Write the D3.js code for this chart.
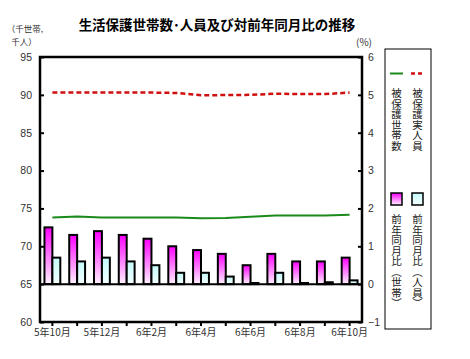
<!DOCTYPE html>
<html>
<head>
<meta charset="utf-8">
<script src="https://cdn.jsdelivr.net/npm/d3@7"></script>
<style>
  body { margin: 0; background: #fff; }
  svg { display: block; }
  text { font-family: "Liberation Sans", Arial, "Noto Sans CJK JP", sans-serif; }
  .jp { font-family: "Noto Sans CJK JP", sans-serif; }
</style>
</head>
<body>
<div class="chart"></div>
<script>
// months shown on the x axis
var months = ["5年10月", "5年11月", "5年12月", "6年1月", "6年2月", "6年3月", "6年4月",
              "6年5月", "6年6月", "6年7月", "6年8月", "6年9月", "6年10月"];
// 被保護世帯数 (千世帯) / 被保護実人員 (千人)
var households = [73.8, 73.95, 73.8, 73.8, 73.8, 73.8, 73.7, 73.75, 73.9, 74.05, 74.07, 74.07, 74.17];
var persons = [90.3, 90.3, 90.3, 90.3, 90.3, 90.25, 89.95, 89.97, 90.0, 90.15, 90.1, 90.1, 90.3];
// 前年同月比 (%)
var yoyHouseholds = [1.5, 1.3, 1.4, 1.3, 1.2, 1.0, 0.9, 0.8, 0.5, 0.8, 0.6, 0.6, 0.7];
var yoyPersons = [0.7, 0.6, 0.7, 0.6, 0.5, 0.3, 0.3, 0.2, 0.03, 0.3, 0.03, 0.05, 0.1];
var leftTicks = [60, 65, 70, 75, 80, 85, 90, 95];
var rightTicks = [-1, 0, 1, 2, 3, 4, 5, 6];

var W = 470, H = 359;
var plot = {left: 40, right: 362, top: 57, bottom: 322};

var svg = d3.select(".chart").append("svg")
  .attr("width", W).attr("height", H);

var defs = svg.append("defs");
var g1 = defs.append("linearGradient").attr("id", "gradM")
  .attr("x1", 0).attr("y1", 0).attr("x2", 0).attr("y2", 1);
g1.append("stop").attr("offset", "0%").attr("stop-color", "#ff00ff");
g1.append("stop").attr("offset", "100%").attr("stop-color", "#fff4ff");
var g2 = defs.append("linearGradient").attr("id", "gradC")
  .attr("x1", 0).attr("y1", 0).attr("x2", 0).attr("y2", 1);
g2.append("stop").attr("offset", "0%").attr("stop-color", "#c4fafa");
g2.append("stop").attr("offset", "100%").attr("stop-color", "#f4ffff");

var x = d3.scaleBand().domain(months).range([plot.left, plot.right]);
var yL = d3.scaleLinear().domain([60, 95]).range([plot.bottom, plot.top]);
var yR = d3.scaleLinear().domain([-1, 6]).range([plot.bottom, plot.top]);

var cx = function(d, i) { return x(months[i]) + x.bandwidth() / 2; };
var bw = x.bandwidth() * 0.32;

// bars
var bars = svg.append("g");
bars.selectAll("rect.m").data(yoyHouseholds).enter().append("rect")
  .attr("class", "m")
  .attr("x", function(d, i) { return cx(d, i) - bw; })
  .attr("y", function(d) { return yR(Math.max(d, 0)); })
  .attr("width", bw)
  .attr("height", function(d) { return Math.abs(yR(d) - yR(0)); })
  .attr("fill", "url(#gradM)").attr("stroke", "#000").attr("stroke-width", 2);
bars.selectAll("rect.c").data(yoyPersons).enter().append("rect")
  .attr("class", "c")
  .attr("x", function(d, i) { return cx(d, i); })
  .attr("y", function(d) { return yR(Math.max(d, 0)); })
  .attr("width", bw)
  .attr("height", function(d) { return Math.abs(yR(d) - yR(0)); })
  .attr("fill", "url(#gradC)").attr("stroke", "#000").attr("stroke-width", 2);

// zero line
svg.append("line")
  .attr("x1", plot.left).attr("x2", plot.right)
  .attr("y1", yR(0)).attr("y2", yR(0))
  .attr("stroke", "#000").attr("stroke-width", 2);

// lines
var line = d3.line().x(function(d, i) { return cx(d, i); }).y(function(d) { return yL(d); });
svg.append("path").datum(households)
  .attr("d", line).attr("fill", "none")
  .attr("stroke", "#1a8a1a").attr("stroke-width", 2);
svg.append("path").datum(persons)
  .attr("d", line).attr("fill", "none")
  .attr("stroke", "#d01010").attr("stroke-width", 2.5)
  .attr("stroke-dasharray", "5,3");

// frame
svg.append("rect")
  .attr("x", plot.left).attr("y", plot.top)
  .attr("width", plot.right - plot.left).attr("height", plot.bottom - plot.top)
  .attr("fill", "none").attr("stroke", "#000").attr("stroke-width", 2.5);

// axes
var axL = svg.append("g").attr("transform", "translate(" + plot.left + ",0)")
  .call(d3.axisLeft(yL).tickValues(leftTicks).tickSize(-4).tickPadding(8));
var axR = svg.append("g").attr("transform", "translate(" + plot.right + ",0)")
  .call(d3.axisRight(yR).tickValues(rightTicks).tickSize(-4).tickPadding(6)
    .tickFormat(d3.format("d")));
var axB = svg.append("g").attr("transform", "translate(0," + plot.bottom + ")")
  .call(d3.axisBottom(x).tickSize(4).tickPadding(3)
    .tickFormat(function(d, i) { return i % 2 === 0 ? d : ""; }));
[axL, axR, axB].forEach(function(a) {
  a.select(".domain").remove();
  a.selectAll(".tick line").attr("stroke", "#000").attr("stroke-width", 2);
  a.selectAll(".tick text").attr("fill", "#333").style("font-size", "10.5px");
});
axB.selectAll(".tick text").attr("class", "jp").style("font-size", "10px");

// title and units
svg.append("text").attr("class", "jp")
  .attr("x", 217).attr("y", 30).attr("text-anchor", "middle")
  .style("font-size", "13.5px").style("font-weight", "bold")
  .text("生活保護世帯数･人員及び対前年同月比の推移");
svg.append("text").attr("class", "jp")
  .attr("x", 25).attr("y", 32).attr("text-anchor", "middle")
  .style("font-size", "8.5px").attr("fill", "#333").text("（千世帯,");
svg.append("text").attr("class", "jp")
  .attr("x", 24).attr("y", 45).attr("text-anchor", "middle")
  .style("font-size", "8.5px").attr("fill", "#333").text("千人）");
svg.append("text").attr("class", "jp")
  .attr("x", 364).attr("y", 46).attr("text-anchor", "middle")
  .style("font-size", "10px").attr("fill", "#333").text("(%)");

// legend
var lg = svg.append("g");
lg.append("rect").attr("x", 385).attr("y", 49).attr("width", 46).attr("height", 280)
  .attr("fill", "#fff").attr("stroke", "#000").attr("stroke-width", 1);
lg.append("line").attr("x1", 390).attr("x2", 403).attr("y1", 73.5).attr("y2", 73.5)
  .attr("stroke", "#1a8a1a").attr("stroke-width", 2);
lg.append("line").attr("x1", 411).attr("x2", 425).attr("y1", 73.5).attr("y2", 73.5)
  .attr("stroke", "#d01010").attr("stroke-width", 2.5).attr("stroke-dasharray", "4,3");
lg.append("rect").attr("x", 391).attr("y", 193).attr("width", 11).attr("height", 12)
  .attr("fill", "url(#gradM)").attr("stroke", "#000").attr("stroke-width", 1.5);
lg.append("rect").attr("x", 412).attr("y", 193).attr("width", 11).attr("height", 12)
  .attr("fill", "url(#gradC)").attr("stroke", "#000").attr("stroke-width", 1.5);

var legendText = [
  {x: 396.5, y: 88, t: "被保護世帯数"},
  {x: 417.5, y: 88, t: "被保護実人員"},
  {x: 396.5, y: 214, t: "前年同月比（世帯）"},
  {x: 417.5, y: 214, t: "前年同月比（人員）"}
];
lg.selectAll("text.lt").data(legendText).enter().append("text")
  .attr("class", "jp lt")
  .attr("x", function(d) { return d.x; }).attr("y", function(d) { return d.y; })
  .style("writing-mode", "vertical-rl")
  .style("font-size", "10.5px").attr("fill", "#222")
  .text(function(d) { return d.t; });
</script>
</body>
</html>
